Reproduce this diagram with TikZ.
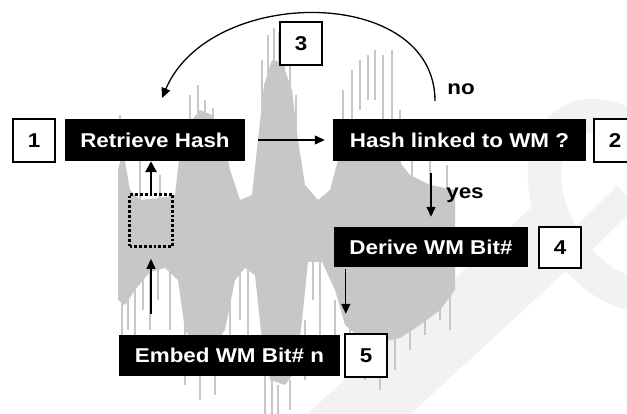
\documentclass[tikz,border=0pt]{standalone}
\usepackage{fontspec}
\usepackage{tikz}
\usetikzlibrary{arrows.meta}

\newfontfamily\flowfont{Liberation Sans Bold}[FakeStretch=1.12]

\tikzset{
  stepbox/.style={fill=black, text=white, inner sep=0pt,
    font=\fontsize{20}{24}\selectfont\flowfont},
  numbox/.style={draw=black, fill=white, line width=1.2pt, inner sep=0pt,
    minimum width=42, minimum height=43, font=\fontsize{20}{24}\selectfont\flowfont},
  flow/.style={line width=1.3pt, -{Triangle[length=10pt,width=9pt]}},
  wave/.style={black!22, line width=1.3pt},
}

\begin{document}
\begin{tikzpicture}[x=1pt,y=-1pt]
\clip (0,0) rectangle (627,414);
\fill[white] (0,0) rectangle (627,414);

% faint letters in the back
\draw[black!5, line width=70] (320,450) -- (575,215);
\draw[black!5, line width=34] (618,205) ellipse [x radius=64, y radius=96, rotate=30];
\fill[white] (618,205) ellipse [x radius=47, y radius=79, rotate=30];
\draw[black!5, line width=28] (560,262) -- (627,196);

% sound wave
\fill[black!22] (118,170) -- (123,150) -- (130,190) -- (140,200) -- (160,198)
  -- (175,195) -- (180,150) -- (188,125) -- (200,110) -- (212,115) -- (222,130)
  -- (230,170) -- (240,200) -- (252,195) -- (258,140) -- (264,85) -- (272,60)
  -- (282,62) -- (292,90) -- (298,140) -- (305,185) -- (318,200) -- (330,190)
  -- (338,160) -- (348,140) -- (360,130) -- (375,130) -- (388,140) -- (398,160)
  -- (410,175) -- (430,185) -- (455,190)
  -- (455,290) -- (440,310) -- (420,325) -- (400,338) -- (380,342) -- (360,338)
  -- (345,325) -- (335,290) -- (322,262) -- (308,262) -- (302,320) -- (296,370)
  -- (285,385) -- (270,380) -- (262,340) -- (255,275) -- (245,268) -- (235,280)
  -- (225,330) -- (210,350) -- (195,345) -- (185,330) -- (178,280) -- (165,268)
  -- (150,272) -- (135,290) -- (125,305) -- (118,300) -- cycle;
\foreach \x/\a/\b in {120/115/160, 124/130/170, 140/150/210, 160/175/210,
    190/95/140, 198/85/130, 205/100/120, 213/108/130, 262/60/120, 268/35/90,
    274/28/60, 279/32/60, 284/40/80, 290/55/90, 296/95/130, 343/90/140,
    352/70/120, 360/60/110, 368/55/100, 375/50/100, 383/55/120, 392/50/160,
    400/110/190, 412/150/200, 430/160/205, 447/165/210}
  \draw[wave] (\x,\a) -- (\x,\b);
\foreach \x/\a/\b in {122/290/360, 128/290/330, 135/280/345, 143/270/310,
    150/270/330, 158/265/300, 170/265/330, 185/320/385, 200/340/400,
    215/340/395, 230/290/360, 240/270/320, 248/265/340, 265/370/414,
    272/380/414, 278/385/414, 290/380/410, 305/320/380, 313/262/300,
    320/262/340, 335/300/345, 350/320/365, 365/330/380, 380/340/390,
    395/330/370, 410/310/350, 425/295/335, 440/280/320, 450/285/330}
  \draw[wave] (\x,\a) -- (\x,\b);

% steps
\node[stepbox, minimum width=180, minimum height=42] (retrieve) at (155,140) {Retrieve Hash};
\node[stepbox, minimum width=253, minimum height=42] (check) at (459.5,140) {Hash linked to WM ?};
\node[stepbox, minimum width=194, minimum height=40] (derive) at (431,247) {Derive WM Bit\#};
\node[stepbox, minimum width=221, minimum height=41] (embed) at (229.5,355.5) {Embed WM Bit\# n};
\node[draw=black, line width=2.8pt, dash pattern=on 2.8pt off 2pt,
  minimum width=43, minimum height=52, inner sep=0pt] (frame) at (151,220.5) {};

% step numbers
\node[numbox] (n1) at (34,140.5) {1};
\node[numbox] (n2) at (615,140.5) {2};
\node[numbox] (n3) at (301,43.5) {3};
\node[numbox, minimum height=41] (n4) at (560,247.5) {4};
\node[numbox] (n5) at (366,355.5) {5};

\node[font=\fontsize{20}{24}\selectfont\flowfont] (no) at (461,89) {no};
\node[font=\fontsize{20}{24}\selectfont\flowfont] (yes) at (465,195) {yes};

% arrows
\draw[flow, shorten <=13pt, shorten >=8pt] (retrieve.east) -- (check.west);
\draw[flow, shorten <=12pt, shorten >=10pt] (derive.north |- check.south) -- (derive.north);
\coordinate (down) at ([xshift=12]derive.south west);
\draw[flow, shorten <=2pt, shorten >=21pt] (down) -- (down |- embed.north);
\draw[flow, shorten <=21pt, shorten >=11pt] (frame.south |- embed.north) -- (frame.south);
\draw[line width=2.8pt, -{Triangle[length=11pt,width=11pt]}] (frame.north) -- (frame.north |- retrieve.south);
\coordinate (loopstart) at (435,101);
\coordinate (loopend) at (162,98);
\draw[flow] (loopstart) .. controls (435,-15) and (210,-15) .. (loopend);
\end{tikzpicture}
\end{document}
